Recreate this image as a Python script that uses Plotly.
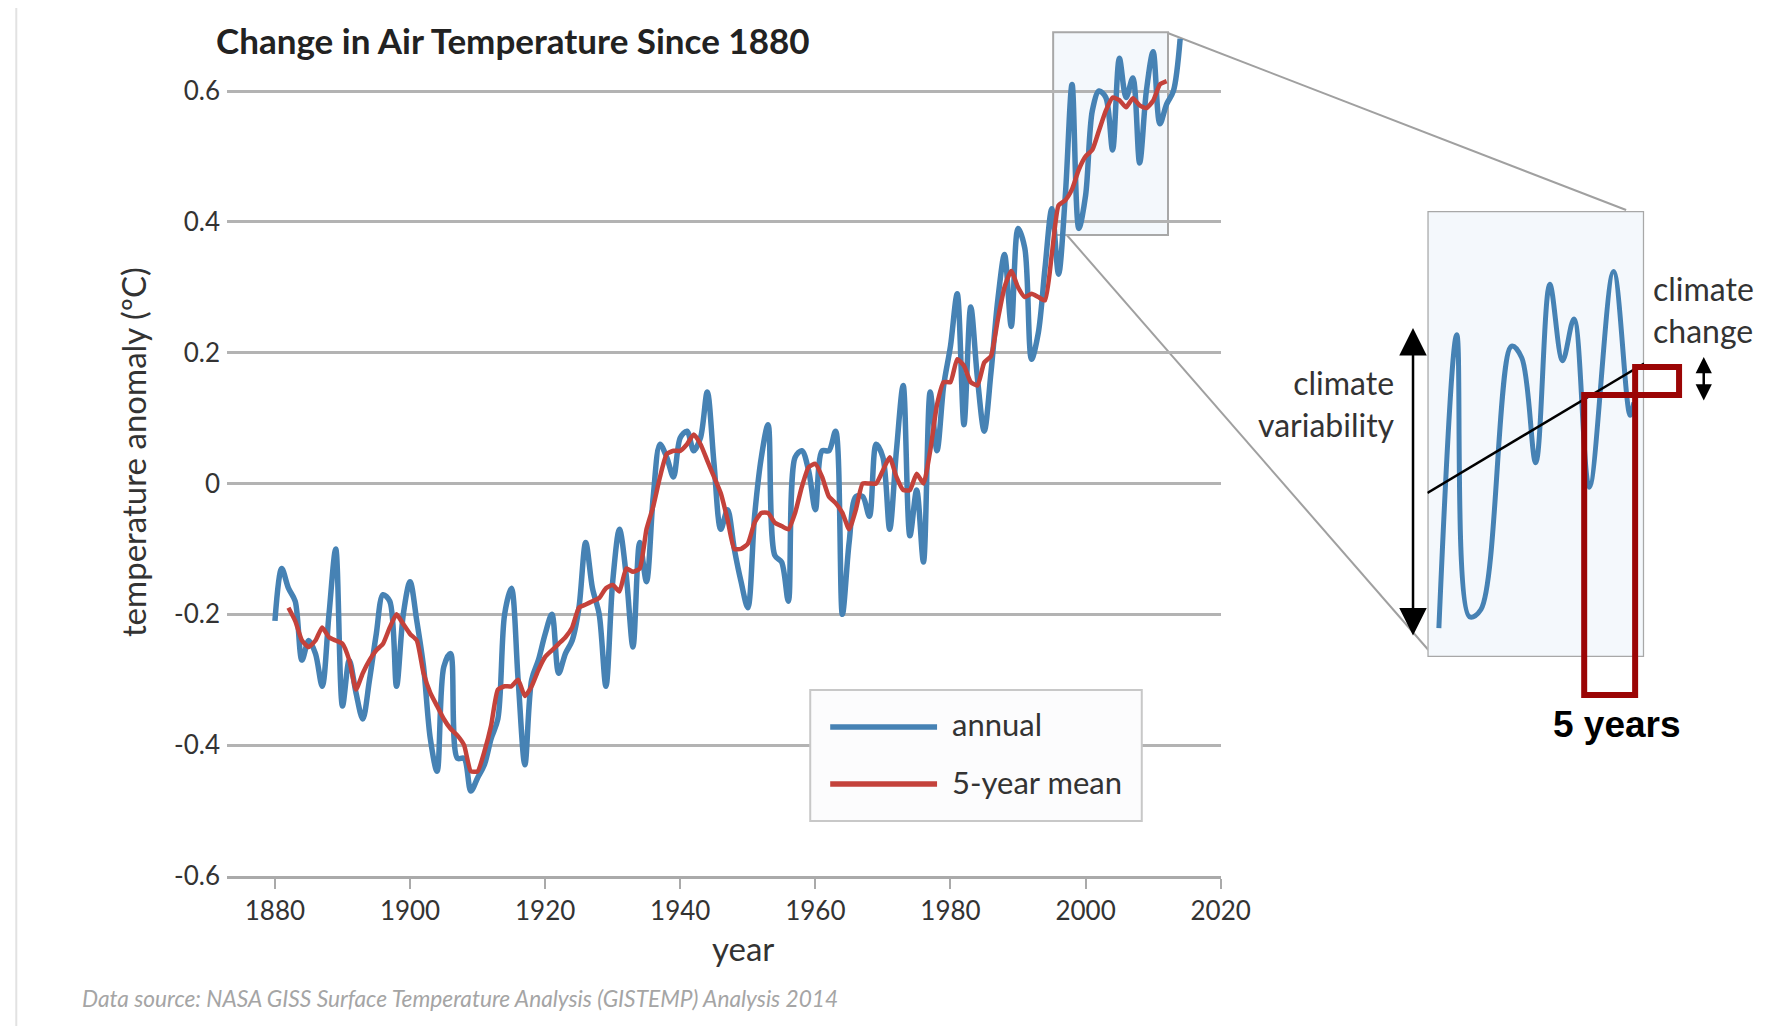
import plotly.graph_objects as go

# ---------------- data ----------------
years = list(range(1880, 2015))
annual = [
    -0.21, -0.13, -0.16, -0.18, -0.27, -0.24, -0.26, -0.31, -0.20, -0.10,
    -0.34, -0.27, -0.32, -0.36, -0.30, -0.23, -0.17, -0.18, -0.31, -0.20,
    -0.15, -0.21, -0.28, -0.39, -0.44, -0.28, -0.26, -0.42, -0.42, -0.47,
    -0.45, -0.43, -0.39, -0.36, -0.20, -0.16, -0.30, -0.43, -0.30, -0.27,
    -0.23, -0.20, -0.29, -0.26, -0.24, -0.19, -0.09, -0.16, -0.20, -0.31,
    -0.15, -0.07, -0.14, -0.25, -0.09, -0.15, -0.02, 0.06, 0.04, 0.01,
    0.07, 0.08, 0.05, 0.07, 0.14, 0.03, -0.07, -0.04, -0.10, -0.15,
    -0.19, -0.05, 0.04, 0.09, -0.11, -0.12, -0.18, 0.04, 0.05, 0.02,
    -0.04, 0.05, 0.05, 0.08, -0.20, -0.09, -0.02, -0.02, -0.05, 0.06,
    0.04, -0.07, 0.05, 0.15, -0.08, -0.01, -0.12, 0.14, 0.05, 0.15,
    0.21, 0.29, 0.09, 0.27, 0.16, 0.08, 0.17, 0.28, 0.35, 0.24,
    0.39, 0.36, 0.19, 0.23, 0.33, 0.42, 0.32, 0.44, 0.61, 0.39,
    0.44, 0.57, 0.60, 0.59, 0.51, 0.65, 0.59, 0.62, 0.49, 0.60,
    0.66, 0.55, 0.58, 0.60, 0.68,
]

mean_years = list(range(1882, 2013))
mean5 = [
    -0.19, -0.21, -0.24, -0.25, -0.24, -0.22, -0.235, -0.24,
    -0.245, -0.27, -0.315, -0.29, -0.27, -0.255, -0.245, -0.22, -0.20, -0.215,
    -0.23, -0.24, -0.29, -0.32, -0.34, -0.36, -0.375, -0.385, -0.40, -0.44,
    -0.44, -0.41, -0.37, -0.315, -0.31, -0.31, -0.30, -0.325, -0.31, -0.285,
    -0.265, -0.255, -0.245, -0.235, -0.22, -0.19, -0.185, -0.18, -0.175, -0.16,
    -0.155, -0.165, -0.13, -0.135, -0.13, -0.07, -0.035, 0.01, 0.045, 0.05,
    0.05, 0.06, 0.075, 0.06, 0.035, 0.01, -0.015, -0.055, -0.10, -0.10,
    -0.092, -0.06, -0.045, -0.045, -0.06, -0.065, -0.07, -0.045, -0.005, 0.025,
    0.03, 0.01, -0.02, -0.03, -0.045, -0.07, -0.04, 0.0, 0.0, 0.0,
    0.02, 0.04, 0.01, -0.01, -0.01, 0.015, 0.0, 0.05, 0.12, 0.155,
    0.155, 0.19, 0.18, 0.155, 0.15, 0.185, 0.195, 0.25, 0.30, 0.325,
    0.30, 0.285, 0.29, 0.285, 0.28, 0.35, 0.425, 0.433, 0.45, 0.48,
    0.50, 0.51, 0.54, 0.57, 0.59, 0.586, 0.575, 0.589, 0.578, 0.574,
    0.585, 0.61, 0.615,
]

# zoom window (the small highlighted box) and the stylised inset curve
zoom_x_range = [1995.2, 2012.2]
zoom_y_range = [0.38, 0.69]
inset_years = [1996.1, 1997.5, 1998.5, 1999.4, 2001.8, 2002.6, 2003.7,
               2004.8, 2005.8, 2006.7, 2007.9, 2009.8, 2011.1, 2011.4]
inset_values = [0.40, 0.604, 0.408, 0.413, 0.596, 0.588, 0.515,
                0.639, 0.586, 0.615, 0.498, 0.648, 0.548, 0.557]
trend_years = [1995.2, 2012.2]
trend_values = [0.494, 0.584]

xtick_vals = [1880, 1900, 1920, 1940, 1960, 1980, 2000, 2020]
xtick_text = ["1880", "1900", "1920", "1940", "1960", "1980", "2000", "2020"]
ytick_vals = [-0.6, -0.4, -0.2, 0, 0.2, 0.4, 0.6]
ytick_text = ["-0.6", "-0.4", "-0.2", "0", "0.2", "0.4", "0.6"]

legend_labels = ["annual", "5-year mean"]

# ---------------- layout geometry ----------------
FW, FH = 1764, 1018
OFF = 8
ML, MR, MT, MB = 219, 40, 16, 150
PW = FW - ML - MR
PH = FH - MT - MB


def PX(x):
    return (x - OFF - ML) / PW


def PY(y):
    return (FH - MB - (y - OFF)) / PH


BLUE = "#4682b4"
RED = "#c4423b"
GRID = "#b3b3b3"
TXT = "#333333"
FONT = "Lato"

fig = go.Figure()

fig.add_trace(go.Scatter(
    x=years, y=annual, mode="lines", name=legend_labels[0],
    line=dict(color=BLUE, width=5.5, shape="spline", smoothing=0.9),
    showlegend=False, xaxis="x", yaxis="y"))
fig.add_trace(go.Scatter(
    x=mean_years, y=mean5, mode="lines", name=legend_labels[1],
    line=dict(color=RED, width=4.5, shape="spline", smoothing=0.5),
    showlegend=False, xaxis="x", yaxis="y"))

fig.add_trace(go.Scatter(
    x=inset_years, y=inset_values, mode="lines",
    line=dict(color=BLUE, width=5, shape="spline", smoothing=1.0),
    showlegend=False, xaxis="x2", yaxis="y2", hoverinfo="skip"))
fig.add_trace(go.Scatter(
    x=trend_years, y=trend_values, mode="lines",
    line=dict(color="black", width=2.5),
    showlegend=False, xaxis="x2", yaxis="y2", hoverinfo="skip"))

shapes = []
# small zoom box in main chart
shapes.append(dict(type="rect", xref="x", yref="y",
                   x0=zoom_x_range[0], x1=zoom_x_range[1],
                   y0=zoom_y_range[0], y1=zoom_y_range[1],
                   fillcolor="#f4f8fc", line=dict(color="#a8a8a8", width=2),
                   layer="below"))
# large inset box
shapes.append(dict(type="rect", xref="x2", yref="y2",
                   x0=zoom_x_range[0], x1=zoom_x_range[1],
                   y0=zoom_y_range[0], y1=zoom_y_range[1],
                   fillcolor="#f4f8fc", line=dict(color="#a8a8a8", width=2.5),
                   layer="below"))
# connector lines
shapes.append(dict(type="line", xref="paper", yref="paper",
                   x0=PX(1169), y0=PY(33), x1=PX(1628), y1=PY(210),
                   line=dict(color="#a0a0a0", width=2), layer="below"))
shapes.append(dict(type="line", xref="paper", yref="paper",
                   x0=PX(1067), y0=PY(234), x1=PX(1430), y1=PY(650),
                   line=dict(color="#a0a0a0", width=2), layer="below"))
# legend box and samples
shapes.append(dict(type="rect", xref="paper", yref="paper",
                   x0=PX(811), x1=PX(1143), y0=PY(821), y1=PY(690),
                   fillcolor="#fcfcfd", line=dict(color="#c8c8c8", width=2)))
shapes.append(dict(type="line", xref="paper", yref="paper",
                   x0=PX(831), x1=PX(938), y0=PY(727), y1=PY(727),
                   line=dict(color=BLUE, width=5.5)))
shapes.append(dict(type="line", xref="paper", yref="paper",
                   x0=PX(831), x1=PX(938), y0=PY(784), y1=PY(784),
                   line=dict(color=RED, width=5.5)))
# red "5 years" bracket
pts = [(1637, 367), (1681, 367), (1681, 395), (1586, 395), (1586, 695), (1637, 695)]
path = "M " + " L ".join(f"{PX(a):.5f},{PY(b):.5f}" for a, b in pts) + " Z"
shapes.append(dict(type="path", xref="paper", yref="paper", path=path,
                   line=dict(color="#9b0505", width=6)))
# faint screenshot frame
for (a, b, c, d) in [(16, 7, 1790, 7), (16, 7, 16, 1029), (16, 1029, 1790, 1029)]:
    shapes.append(dict(type="line", xref="paper", yref="paper",
                       x0=PX(a), y0=PY(b), x1=PX(c), y1=PY(d),
                       line=dict(color="#e2e2e2", width=2)))

annotations = []


def text(x, y, s, size, color=TXT, xanchor="left", yanchor="middle",
         family=FONT, align="left", angle=0):
    annotations.append(dict(xref="paper", yref="paper", x=PX(x), y=PY(y),
                            text=s, showarrow=False, xanchor=xanchor,
                            yanchor=yanchor, align=align, textangle=angle,
                            font=dict(size=size, color=color, family=family)))


text(214, 40, "<b>Change in Air Temperature Since 1880</b>", 35, color="#222222")
text(133, 452, "temperature anomaly (ºC)", 33, xanchor="center", angle=-90)
text(744, 948, "year", 33, xanchor="center")
text(80, 999, "<i>Data source: NASA GISS Surface Temperature Analysis (GISTEMP) Analysis 2014</i>",
     22.7, color="#a5a5a5")
text(951, 724, legend_labels[0], 31)
text(951, 782, legend_labels[1], 31)
text(1399, 403, "climate<br>variability", 32, xanchor="right", align="right")
text(1653, 309, "climate<br>change", 32)
text(1619, 724, "<b>5 years</b>", 37, color="black", xanchor="center",
     family="Liberation Sans, Arial")

# double arrows
annotations.append(dict(xref="paper", yref="paper", x=PX(1414.6), y=PY(328),
                        ax=0, ay=309, text="", showarrow=True,
                        arrowside="end+start", arrowhead=2, startarrowhead=2,
                        arrowsize=2.2, startarrowsize=2.2, arrowwidth=2.5,
                        arrowcolor="black"))
annotations.append(dict(xref="paper", yref="paper", x=PX(1705.7), y=PY(357),
                        ax=0, ay=45, text="", showarrow=True,
                        arrowside="end+start", arrowhead=2, startarrowhead=2,
                        arrowsize=1.3, startarrowsize=1.3, arrowwidth=2.5,
                        arrowcolor="black"))

x_left = 1880 - (275 - 227) / 6.764
y_top = -0.6 + 1.2 * 1.0 / (PY(91) - PY(876))
fig.update_layout(
    width=FW, height=FH,
    margin=dict(l=ML, r=MR, t=MT, b=MB, pad=0),
    paper_bgcolor="white", plot_bgcolor="rgba(0,0,0,0)",
    font=dict(family=FONT, color=TXT),
    showlegend=False,
    xaxis=dict(domain=[0, PX(1222)], range=[x_left, 2020],
               tickvals=xtick_vals, ticktext=xtick_text,
               ticks="outside", ticklen=10, tickwidth=2, tickcolor="#aaaaaa",
               showline=True, linecolor="#aaaaaa", linewidth=2.5,
               showgrid=False, zeroline=False,
               tickfont=dict(size=26, color=TXT, family=FONT)),
    yaxis=dict(range=[-0.6, y_top],
               tickvals=ytick_vals, ticktext=ytick_text,
               showgrid=True, gridcolor=GRID, gridwidth=2.5,
               zeroline=False, showline=False, ticks="",
               ticklabelstandoff=6,
               tickfont=dict(size=26, color=TXT, family=FONT)),
    xaxis2=dict(domain=[PX(1429), PX(1646)], range=zoom_x_range,
                anchor="y2", visible=False),
    yaxis2=dict(domain=[PY(657), PY(211)], range=zoom_y_range,
                anchor="x2", visible=False),
    shapes=shapes,
    annotations=annotations,
)

fig.write_html("out.html")
